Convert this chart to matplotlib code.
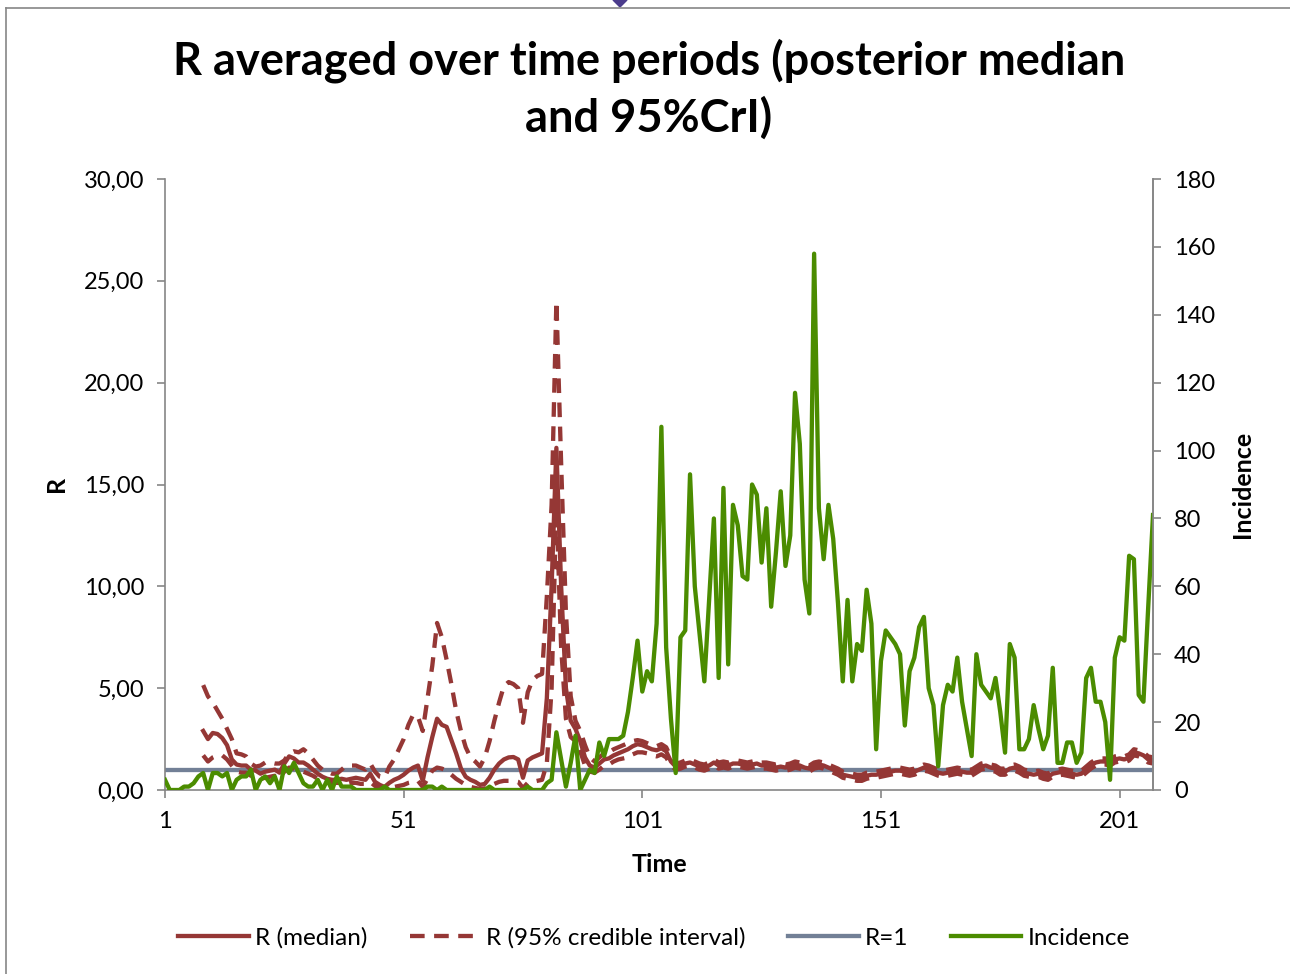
import numpy as np
import matplotlib
matplotlib.use("Agg")
import matplotlib.pyplot as plt
from matplotlib.lines import Line2D
from matplotlib.patches import Polygon
from matplotlib.ticker import FuncFormatter

nan = np.nan

# ---------------- data ----------------
time = list(range(1, 209))

incidence = [
    3, 0, 0, 0, 1, 1, 2, 4, 5, 0,
    5, 5, 4, 5, 0, 3, 4, 4, 6, 0,
    3, 4, 2, 4, 0, 7, 5, 8, 5, 2,
    1, 1, 3, 0, 3, 0, 4, 1, 1, 1,
    0, 0, 0, 0, 0, 0, 1, 0, 0, 0,
    0, 0, 0, 0, 0, 1, 1, 0, 1, 0,
    0, 0, 0, 0, 0, 0, 0, 0, 1, 0,
    0, 0, 0, 0, 0, 0, 1, 0, 0, 0,
    2, 3, 17, 9, 1, 8, 16, 0, 3, 6,
    5, 14, 10, 15, 15, 15, 16, 23, 33, 44,
    29, 35, 32, 49, 107, 42, 21, 5, 45, 47,
    93, 60, 46, 32, 56, 80, 33, 89, 37, 84,
    78, 63, 62, 90, 87, 67, 83, 54, 70, 88,
    66, 75, 117, 102, 62, 52, 158, 83, 68, 84,
    74, 55, 32, 56, 32, 43, 41, 59, 49, 12,
    38, 47, 45, 43, 40, 19, 35, 39, 48, 51,
    30, 25, 7, 25, 31, 29, 39, 26, 18, 10,
    40, 31, 29, 27, 33, 23, 11, 43, 39, 12,
    12, 15, 25, 18, 12, 16, 36, 8, 8, 14,
    14, 8, 11, 33, 36, 26, 26, 20, 3, 39,
    45, 44, 69, 68, 28, 26, 54, 81,
]

r_median = [nan] * 8 + [
    2.9, 2.5,
    2.8, 2.75, 2.55, 2.2, 1.5, 1.25, 1.2, 1.2, 1.0, 0.95,
    0.8, 0.9, 0.95, 1.0, 0.85, 1.3, 1.65, 1.55, 1.35, 1.35,
    1.2, 1.0, 0.8, 0.65, 0.55, 0.5, 0.5, 0.55, 0.5, 0.55,
    0.6, 0.55, 0.5, 0.8, 0.4, 0.25, 0.15, 0.35, 0.5, 0.6,
    0.75, 0.95, 1.1, 1.2, 0.45, 1.6, 2.6, 3.5, 3.2, 3.1,
    2.45, 1.8, 1.06, 0.65, 0.5, 0.4, 0.25, 0.3, 0.6, 1.0,
    1.3, 1.5, 1.6, 1.62, 1.5, 0.6, 1.45, 1.6, 1.7, 1.8,
    4.5, 10.0, 16.8, 10.0, 5.0, 3.4, 3.0, 2.4, 1.6, 1.2,
    1.1, 1.3, 1.5, 1.55, 1.7, 1.8, 1.9, 2.0, 2.15, 2.25,
    2.2, 2.1, 2.0, 1.95, 2.05, 1.9, 1.4, 1.15, 1.2, 1.3,
    1.35, 1.25, 1.15, 1.1, 1.2, 1.35, 1.2, 1.25, 1.2, 1.3,
    1.3, 1.25, 1.2, 1.25, 1.3, 1.2, 1.2, 1.15, 1.1, 1.15,
    1.1, 1.15, 1.25, 1.2, 1.1, 1.05, 1.2, 1.25, 1.2, 1.1,
    1.0, 0.9, 0.75, 0.7, 0.65, 0.6, 0.6, 0.7, 0.75, 0.75,
    0.8, 0.85, 0.9, 0.95, 0.95, 0.9, 0.85, 0.9, 1.0, 1.1,
    1.05, 0.95, 0.85, 0.8, 0.85, 0.9, 0.95, 0.9, 0.85, 0.85,
    1.0, 1.15, 1.2, 1.1, 1.05, 0.9, 0.9, 1.05, 1.1, 1.0,
    0.85, 0.8, 0.75, 0.8, 0.7, 0.65, 0.8, 0.85, 0.9, 0.85,
    0.8, 0.75, 0.8, 1.0, 1.2, 1.35, 1.4, 1.4, 1.35, 1.5,
    1.55, 1.5, 1.6, 1.85, 1.8, 1.7, 1.5, 1.45,
]

r_upper = [nan] * 8 + [
    5.15, 4.6,
    4.3, 3.9, 3.5, 3.0, 2.5, 1.8, 1.75, 1.65, 1.3, 1.15,
    1.2, 1.35, 1.35, 1.3, 1.3, 1.45, 1.8, 1.9, 1.85, 2.0,
    1.8, 1.5, 1.2, 1.0, 0.9, 0.8, 0.8, 1.0, 1.2, 1.2,
    1.2, 1.1, 1.0, 1.3, 0.9, 0.65, 0.6, 1.15, 1.5, 2.0,
    2.5, 3.2, 3.7, 3.6, 2.9, 4.5, 6.1, 8.2, 7.5, 6.4,
    5.2, 3.9, 2.9, 2.1, 1.6, 1.4, 1.15, 1.6, 2.4, 3.4,
    4.3, 5.1, 5.3, 5.2, 5.0, 3.3, 4.8, 5.4, 5.6, 5.7,
    9.5, 14.0, 24.0, 16.0, 8.7, 4.6, 3.4, 2.9, 2.2, 1.6,
    1.4, 1.6, 1.8, 1.85, 2.0, 2.1, 2.2, 2.3, 2.4, 2.45,
    2.4, 2.3, 2.2, 2.15, 2.25, 2.1, 1.6, 1.3, 1.35, 1.45,
    1.5, 1.4, 1.3, 1.25, 1.35, 1.5, 1.35, 1.4, 1.35, 1.45,
    1.45, 1.4, 1.35, 1.4, 1.45, 1.35, 1.35, 1.3, 1.25, 1.3,
    1.25, 1.3, 1.4, 1.35, 1.25, 1.2, 1.35, 1.4, 1.35, 1.25,
    1.15, 1.05, 0.9, 0.85, 0.8, 0.75, 0.75, 0.85, 0.9, 0.9,
    0.95, 1.0, 1.05, 1.1, 1.1, 1.05, 1.0, 1.05, 1.15, 1.25,
    1.2, 1.1, 1.0, 0.95, 1.0, 1.05, 1.1, 1.05, 1.0, 1.0,
    1.15, 1.3, 1.35, 1.25, 1.2, 1.05, 1.05, 1.2, 1.25, 1.15,
    1.0, 0.95, 0.9, 0.95, 0.85, 0.8, 0.95, 1.0, 1.05, 1.0,
    0.95, 0.9, 0.95, 1.15, 1.35, 1.5, 1.55, 1.55, 1.5, 1.65,
    1.7, 1.65, 1.75, 2.0, 1.95, 1.85, 1.65, 1.6,
]

r_lower = [nan] * 8 + [
    1.7, 1.4,
    1.6, 1.7, 1.7, 1.5, 1.2, 0.9, 0.85, 0.85, 0.7, 0.7,
    0.55, 0.6, 0.65, 0.7, 0.6, 0.9, 1.1, 1.05, 0.95, 0.9,
    0.8, 0.7, 0.55, 0.45, 0.4, 0.35, 0.35, 0.35, 0.3, 0.35,
    0.35, 0.3, 0.3, 0.4, 0.2, 0.12, 0.08, 0.1, 0.15, 0.2,
    0.25, 0.35, 0.4, 0.45, 0.15, 0.55, 0.95, 1.1, 1.05, 0.95,
    0.75, 0.55, 0.4, 0.25, 0.15, 0.1, 0.05, 0.08, 0.15, 0.3,
    0.4, 0.45, 0.45, 0.45, 0.4, 0.1, 0.35, 0.4, 0.45, 0.5,
    1.3, 5.0, 14.0, 7.0, 3.5, 2.6, 2.4, 1.9, 1.2, 0.9,
    0.85, 1.0, 1.2, 1.25, 1.4, 1.5, 1.55, 1.6, 1.75, 1.85,
    1.85, 1.8, 1.7, 1.65, 1.75, 1.6, 1.2, 1.0, 1.05, 1.15,
    1.2, 1.1, 1.0, 0.95, 1.05, 1.2, 1.05, 1.1, 1.05, 1.15,
    1.15, 1.1, 1.05, 1.1, 1.15, 1.05, 1.05, 1.0, 0.95, 1.0,
    0.95, 1.0, 1.1, 1.05, 0.95, 0.9, 1.05, 1.1, 1.05, 0.95,
    0.85, 0.75, 0.6, 0.55, 0.5, 0.45, 0.45, 0.55, 0.6, 0.6,
    0.65, 0.7, 0.75, 0.8, 0.8, 0.75, 0.7, 0.75, 0.85, 0.95,
    0.9, 0.8, 0.7, 0.65, 0.7, 0.75, 0.8, 0.75, 0.7, 0.7,
    0.85, 1.0, 1.05, 0.95, 0.9, 0.75, 0.75, 0.9, 0.95, 0.85,
    0.7, 0.65, 0.6, 0.65, 0.55, 0.5, 0.65, 0.7, 0.75, 0.7,
    0.65, 0.6, 0.65, 0.85, 1.05, 1.2, 1.25, 1.25, 1.2, 1.35,
    1.4, 1.35, 1.45, 1.7, 1.65, 1.55, 1.35, 1.3,
]

r_threshold = [1.0] * len(time)

title = "R averaged over time periods (posterior median\nand 95%CrI)"
x_ticks = [1, 51, 101, 151, 201]
r_ticks = [0, 5, 10, 15, 20, 25, 30]
inc_ticks = [0, 20, 40, 60, 80, 100, 120, 140, 160, 180]
legend_labels = ["R (median)", "R (95% credible interval)", "R=1", "Incidence"]

assert len(incidence) == 208 and len(r_median) == 208
assert len(r_upper) == 208 and len(r_lower) == 208

# ---------------- style ----------------
plt.rcParams['font.family'] = ['Lato', 'DejaVu Sans']
RED = '#953735'
GREEN = '#4B8C00'
SLATE = '#728096'
AXC = '#868686'
LW = 3.1
DASH = (0, (3.4, 2.2))

W, H = 1290, 974
fig = plt.figure(figsize=(W / 100, H / 100), dpi=100)
ax = fig.add_axes([165 / W, 1 - 790 / H, (1153 - 165) / W, (790 - 179) / H])
ax2 = ax.twinx()

ax.plot(time, r_threshold, color=SLATE, lw=LW, zorder=1)
ax.plot(time, r_upper, color=RED, lw=LW, ls=DASH, zorder=2)
ax.plot(time, r_lower, color=RED, lw=LW, ls=DASH, zorder=2)
ax.plot(time, r_median, color=RED, lw=LW, zorder=3)
ax2.plot(time, incidence, color=GREEN, lw=LW, solid_joinstyle='round')

ax.set_xlim(1, 208)
ax.set_ylim(0, 30)
ax2.set_ylim(0, 180)
ax.set_xticks(x_ticks)
ax.set_xticklabels([str(v) for v in x_ticks])
ax.set_yticks(r_ticks)
ax.yaxis.set_major_formatter(FuncFormatter(lambda v, p: f"{v:.2f}".replace('.', ',')))
ax2.set_yticks(inc_ticks)

for a in (ax, ax2):
    a.spines['top'].set_visible(False)
    for s in a.spines.values():
        s.set_color(AXC)
        s.set_linewidth(1.2)
    a.tick_params(direction='out', length=6, width=1.2, color=AXC,
                  labelsize=17, pad=9, labelcolor='black')
ax2.spines['left'].set_visible(False)
ax2.spines['bottom'].set_visible(False)

fig.text(649 / W, 1 - 89 / H, title, ha='center', va='center',
         fontsize=32.5, fontweight='bold', linespacing=1.38)
fig.text(57 / W, 1 - 484 / H, 'R', rotation=90, ha='center', va='center',
         fontsize=18, fontweight='bold')
fig.text(1243 / W, 1 - 484 / H, 'Incidence', rotation=90, ha='center',
         va='center', fontsize=18, fontweight='bold')
fig.text(659 / W, 1 - 865 / H, 'Time', ha='center', va='center',
         fontsize=18, fontweight='bold')

handles = [
    Line2D([], [], color=RED, lw=LW),
    Line2D([], [], color=RED, lw=LW, ls=DASH),
    Line2D([], [], color=SLATE, lw=LW),
    Line2D([], [], color=GREEN, lw=LW),
]
fig.legend(handles, legend_labels, loc='center', bbox_to_anchor=(654 / W, 1 - 938 / H),
           ncol=4, frameon=False, fontsize=17.5, handlelength=2.9,
           handletextpad=0.25, columnspacing=1.75)

# chart-area border and small marker at top
fig.add_artist(Line2D([6 / W, 1], [1 - 8 / H, 1 - 8 / H], color=AXC, lw=1.2))
fig.add_artist(Line2D([6 / W, 6 / W], [1 - 8 / H, 0], color=AXC, lw=1.2))
fig.add_artist(Polygon([[613 / W, 1.0], [627 / W, 1.0], [620 / W, 1 - 7 / H]],
                       closed=True, color='#4B3C8C', transform=fig.transFigure))

fig.savefig('out.png', dpi=100)
